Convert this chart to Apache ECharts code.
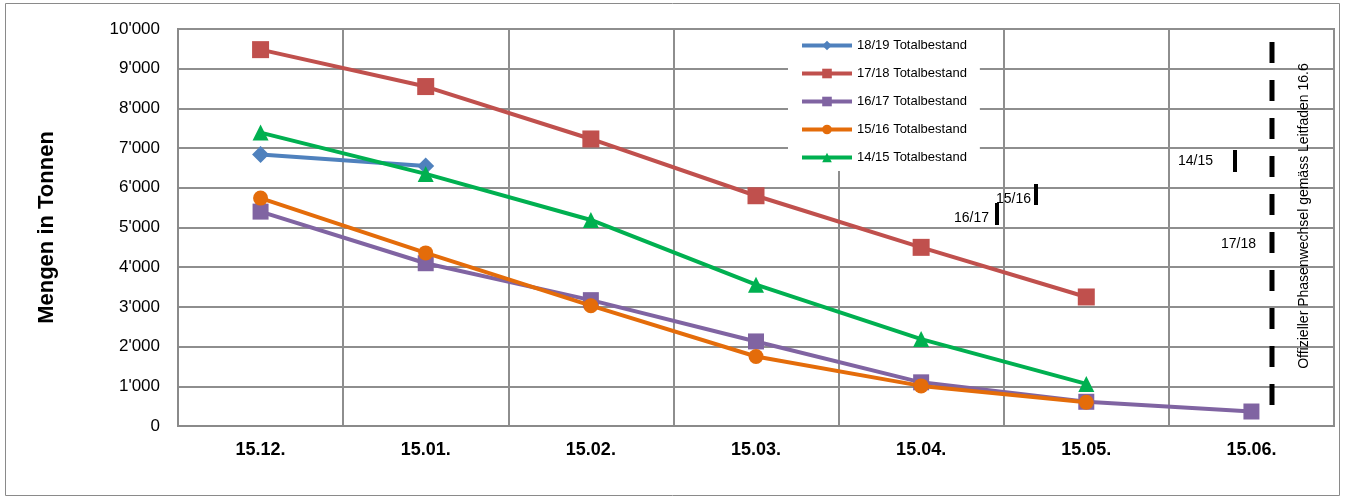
<!DOCTYPE html>
<html>
<head>
<meta charset="utf-8">
<script src="https://cdn.jsdelivr.net/npm/echarts@6/dist/echarts.min.js"></script>
<style>
html,body{margin:0;padding:0;background:#fff;}
#chart{width:1345px;height:499px;}
</style>
</head>
<body>
<div id="chart"></div>
<script>
const categories = ['15.12.', '15.01.', '15.02.', '15.03.', '15.04.', '15.05.', '15.06.'];
const seriesNames = ['18/19 Totalbestand', '17/18 Totalbestand', '16/17 Totalbestand', '15/16 Totalbestand', '14/15 Totalbestand'];
const s1819 = [6840, 6550, null, null, null, null, null];
const s1718 = [9480, 8550, 7230, 5800, 4500, 3250, null];
const s1617 = [5400, 4100, 3170, 2130, 1100, 610, 365];
const s1516 = [5740, 4360, 3030, 1750, 1010, 600, null];
const s1415 = [7390, 6350, 5190, 3560, 2190, 1060, null];
const yTicks = [0, 1000, 2000, 3000, 4000, 5000, 6000, 7000, 8000, 9000, 10000];
const axisTitle = 'Mengen in Tonnen';
const phaseText = 'Offizieller Phasenwechsel gemäss Leitfaden 16.6';
const noteLabels = ['16/17', '15/16', '14/15', '17/18'];

const colors = ['#4F81BD', '#C0504D', '#8064A2', '#E46C0A', '#00B050'];
const symbols = ['diamond', 'rect', 'rect', 'circle', 'triangle'];
const symbolSizes = [17, 17, 16, 15, 16];
const dataSets = [s1819, s1718, s1617, s1516, s1415];
const FONT = '"Liberation Sans", Arial, sans-serif';

function fmt(v) {
  return String(v).replace(/\B(?=(\d{3})+(?!\d))/g, "'");
}

const chart = echarts.init(document.getElementById('chart'), null, {renderer: 'canvas'});

const series = dataSets.map((d, i) => ({
  name: seriesNames[i],
  type: 'line',
  data: d,
  symbol: symbols[i],
  symbolSize: symbolSizes[i],
  connectNulls: false,
  showAllSymbol: true,
  lineStyle: {color: colors[i], width: 4},
  itemStyle: {color: colors[i]},
  emphasis: {disabled: true},
  animation: false,
  z: 2 + i
}));

const noteStyle = {fill: '#000', font: '14px ' + FONT};
const graphic = [
  {type: 'rect', shape: {x: 5.5, y: 3.5, width: 1334, height: 492}, style: {fill: 'none', stroke: '#8a8a8a', lineWidth: 1}, silent: true, z: 0},
  // phase change dashed line
  {type: 'line', shape: {x1: 1272, y1: 42, x2: 1272, y2: 405}, style: {stroke: '#000', lineWidth: 5, lineDash: [21, 17]}, z: 50},
  // short markers
  {type: 'rect', shape: {x: 995, y: 203, width: 4, height: 22}, style: {fill: '#000'}, z: 50},
  {type: 'rect', shape: {x: 1034, y: 184, width: 4, height: 21}, style: {fill: '#000'}, z: 50},
  {type: 'rect', shape: {x: 1233, y: 150, width: 4, height: 22}, style: {fill: '#000'}, z: 50},
  {type: 'text', style: Object.assign({text: noteLabels[0], x: 989, y: 218, align: 'right', verticalAlign: 'middle'}, noteStyle), z: 50},
  {type: 'text', style: Object.assign({text: noteLabels[1], x: 1031, y: 199, align: 'right', verticalAlign: 'middle'}, noteStyle), z: 50},
  {type: 'text', style: Object.assign({text: noteLabels[2], x: 1178, y: 161, align: 'left', verticalAlign: 'middle'}, noteStyle), z: 50},
  {type: 'text', style: Object.assign({text: noteLabels[3], x: 1256, y: 244, align: 'right', verticalAlign: 'middle'}, noteStyle), z: 50},
  {type: 'text', x: 1304, y: 216, rotation: Math.PI / 2,
    style: {text: phaseText, x: 0, y: 0, align: 'center', verticalAlign: 'middle', fill: '#000', font: '14px ' + FONT}, z: 50}
];

const option = {
  backgroundColor: '#fff',
  animation: false,
  color: colors,
  textStyle: {fontFamily: FONT},
  grid: {left: 178, right: 11, top: 29, bottom: 73, show: true, borderColor: '#8a8a8a', borderWidth: 2, containLabel: false},
  legend: {
    show: true,
    orient: 'vertical',
    left: 788,
    top: 30,
    padding: [9, 13, 7, 12],
    backgroundColor: '#fff',
    itemWidth: 50,
    itemHeight: 12,
    itemGap: 15,
    itemTextGap: 3,
    data: seriesNames,
    lineStyle: {width: 4},
    textStyle: {fontSize: 13, color: '#000', fontFamily: FONT},
    selectedMode: false,
    z: 20
  },
  xAxis: {
    type: 'category',
    data: categories,
    boundaryGap: true,
    axisLine: {show: true, lineStyle: {color: '#8a8a8a', width: 2}},
    axisTick: {show: false},
    axisLabel: {color: '#000', fontSize: 18, fontWeight: 'bold', margin: 15, fontFamily: FONT},
    splitLine: {show: true, interval: 0, lineStyle: {color: '#8e8e8e', width: 2}}
  },
  yAxis: {
    type: 'value',
    min: 0,
    max: 10000,
    interval: 1000,
    name: axisTitle,
    nameLocation: 'middle',
    nameGap: 120,
    nameRotate: 90,
    nameTextStyle: {fontSize: 22, fontWeight: 'bold', color: '#000', fontFamily: FONT},
    axisLine: {show: true, lineStyle: {color: '#8a8a8a', width: 2}},
    axisTick: {show: false},
    axisLabel: {color: '#000', fontSize: 17, margin: 18, fontFamily: FONT, formatter: v => fmt(v), customValues: yTicks},
    splitLine: {show: true, lineStyle: {color: '#8e8e8e', width: 2}}
  },
  series: series,
  graphic: graphic
};

chart.setOption(option);
</script>
</body>
</html>
